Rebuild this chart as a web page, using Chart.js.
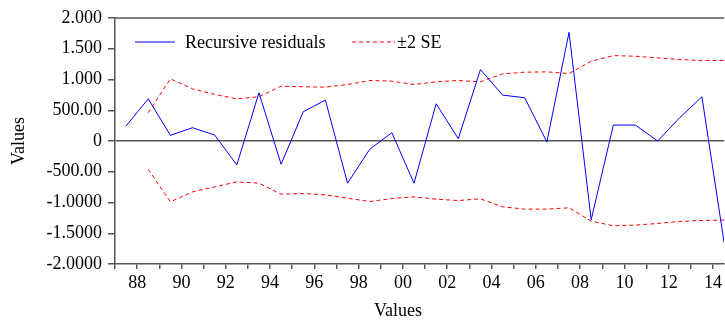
<!DOCTYPE html>
<html>
<head>
<meta charset="utf-8">
<script src="https://cdn.jsdelivr.net/npm/chart.js"></script>
<style>
  html, body { margin: 0; padding: 0; background: #fff; }
  #wrap { width: 725px; height: 320px; }
</style>
</head>
<body>
<div id="wrap"><canvas id="resid_chart"></canvas></div>
<script>
// annual data, 1987 - 2014
var years = [1987,1988,1989,1990,1991,1992,1993,1994,1995,1996,1997,1998,1999,2000,
             2001,2002,2003,2004,2005,2006,2007,2008,2009,2010,2011,2012,2013,2014];

var residuals = [243,686,92,216,97,-389,784,-378,476,665,-686,-135,135,-686,
                 605,38,1162,746,703,-16,1768,-1281,259,259,0,380,719,-1650];

var upperSE = [null,459,1011,849,757,686,719,892,881,876,919,984,973,919,
               962,984,962,1090,1119,1124,1097,1297,1389,1378,1351,1324,1308,1308];

var lowerSE = [null,-459,-989,-827,-746,-665,-686,-865,-854,-876,-930,-984,-935,-908,
               -946,-968,-941,-1070,-1108,-1108,-1086,-1303,-1378,-1368,-1341,-1308,-1292,-1286];

var xTickLabels = ['','88','','90','','92','','94','','96','','98','','00',
                   '','02','','04','','06','','08','','10','','12','','14'];

var yTickValues = [-2000,-1500,-1000,-500,0,500,1000,1500,2000];
var yTickLabels = ['-2.0000','-1.5000','-1.0000','-500.00','0','500.00','1.000','1.500','2.000'];

var xTitle = "Values";
var axisGrey = '#555';
var serif = "'Liberation Serif', 'Times New Roman', serif";

function toPoints(vals) {
  return years.map(function (yr, i) { return { x: yr + 0.5, y: vals[i] }; });
}

Chart.defaults.font.family = serif;
Chart.defaults.font.size = 18;
Chart.defaults.color = '#000';

// frame top edge, legend inside the plot, x title (sits left of centre in the original)
var frameLegend = {
  id: 'frameLegend',
  afterDraw: function (chart) {
    var ctx = chart.ctx, a = chart.chartArea;
    ctx.save();
    ctx.strokeStyle = axisGrey;
    ctx.lineWidth = 1.5;
    ctx.beginPath();
    ctx.moveTo(a.left, a.top);
    ctx.lineTo(a.right, a.top);
    ctx.stroke();

    var ds = chart.data.datasets;
    var ly = a.top + 24;
    var items = [[ds[0], 20, 60, 70], [ds[1], 237, 280, 282]];
    ctx.font = "18px " + serif;
    ctx.textBaseline = 'middle';
    ctx.fillStyle = '#000';
    items.forEach(function (it) {
      var d = it[0];
      ctx.strokeStyle = d.borderColor;
      ctx.lineWidth = 1;
      ctx.setLineDash(d.borderDash || []);
      ctx.beginPath();
      ctx.moveTo(a.left + it[1], ly);
      ctx.lineTo(a.left + it[2], ly);
      ctx.stroke();
      ctx.setLineDash([]);
      ctx.fillText(d.label, a.left + it[3], ly + 1);
    });

    ctx.textAlign = 'center';
    ctx.fillText(xTitle, a.left + 283, a.bottom + 47);
    ctx.restore();
  }
};

new Chart("resid_chart", {
  type: "line",
  data: {
    datasets: [{
      label: "Recursive residuals",
      data: toPoints(residuals),
      borderColor: "#0000ff",
      borderWidth: 1,
      pointRadius: 0,
      fill: false
    }, {
      label: "\u00b12 SE",
      data: toPoints(upperSE),
      borderColor: "#ff0000",
      borderWidth: 1,
      borderDash: [4, 3],
      pointRadius: 0,
      fill: false
    }, {
      label: "",
      data: toPoints(lowerSE),
      borderColor: "#ff0000",
      borderWidth: 1,
      borderDash: [4, 3],
      pointRadius: 0,
      fill: false
    }]
  },
  options: {
    responsive: true,
    maintainAspectRatio: false,
    animation: false,
    layout: { padding: { top: 18, right: 0, bottom: 0, left: 0 } },
    plugins: {
      legend: { display: false },
      tooltip: { enabled: false }
    },
    scales: {
      x: {
        type: "linear",
        min: 1987,
        max: 2014.5,
        afterBuildTicks: function (s) { s.ticks = years.map(function (v) { return { value: v }; }); },
        afterFit: function (s) { s.height = 56; },
        ticks: {
          autoSkip: false,
          maxRotation: 0,
          padding: 3,
          callback: function (v, i) { return xTickLabels[i]; }
        },
        grid: { drawOnChartArea: false, tickLength: 5, tickColor: axisGrey, lineWidth: 1.5 },
        border: { color: axisGrey, width: 1.5 },
        title: { display: false }
      },
      y: {
        min: -2000,
        max: 2000,
        afterBuildTicks: function (s) { s.ticks = yTickValues.map(function (v) { return { value: v }; }); },
        afterFit: function (s) { s.width = 115; },
        ticks: {
          padding: 6,
          callback: function (v, i) { return yTickLabels[i]; }
        },
        grid: {
          color: function (c) { return c.tick && c.tick.value === 0 ? axisGrey : 'rgba(0,0,0,0)'; },
          lineWidth: 1.5,
          tickColor: axisGrey,
          tickLength: 7
        },
        border: { color: axisGrey, width: 1.5 },
        title: { display: true, text: "Values", padding: { top: 8, bottom: 0 }, font: { size: 18, lineHeight: 1.2 } }
      }
    }
  },
  plugins: [frameLegend]
});
</script>
</body>
</html>
